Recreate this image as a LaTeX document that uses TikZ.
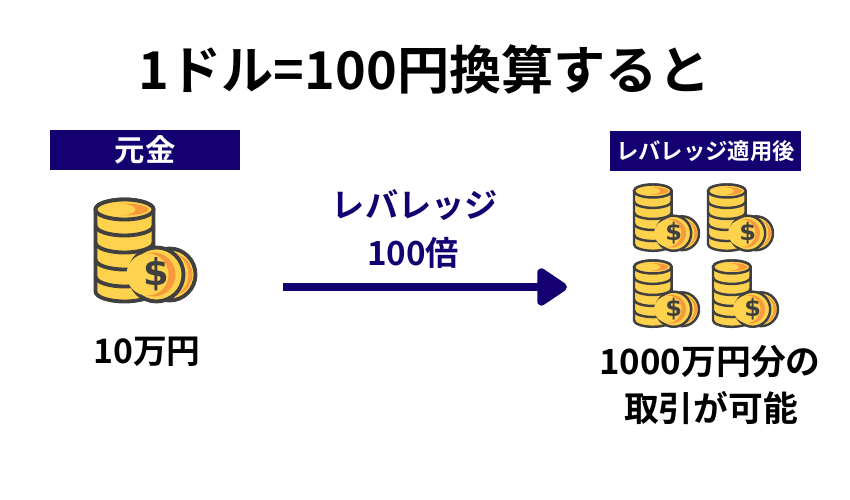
\documentclass[tikz,border=0pt]{standalone}
\usepackage{fontspec}
\setmainfont{Noto Sans CJK JP}[BoldFont={Noto Sans CJK JP Bold}]
\newfontfamily\dollarfont{DejaVu Sans}
\usepackage{xcolor}
\usetikzlibrary{arrows.meta}

\definecolor{navyband}{HTML}{140070}
\definecolor{coinyellow}{HTML}{FFD24D}
\definecolor{coinorange}{HTML}{F79A3E}
\definecolor{coinline}{HTML}{404040}

\tikzset{
  titre/.style={font=\fontsize{29.7}{29.7}\bfseries, text=black},
  legende/.style={font=\fontsize{19.8}{19.8}\bfseries, text=black},
  levier/.style={font=\fontsize{18.9}{18.9}\bfseries, text=navyband},
  bande/.style={fill=navyband, text=white, inner sep=0pt, font=\bfseries},
  coinstack/.pic={
    % La pile
    \draw[fill=coinyellow] (0,-10) -- (0,-92) arc[start angle=180, end angle=360, x radius=29, y radius=10]
      -- (58,-10) arc[start angle=0, end angle=180, x radius=29, y radius=10] -- cycle;
    \foreach \y in {-26,-43,-60,-77} {
      \draw (0,\y) arc[start angle=180, end angle=360, x radius=29, y radius=10];
    }
    % Le dessus de la pile
    \draw[fill=coinyellow] (29,-10) ellipse[x radius=29, y radius=10];
    \fill[coinorange] (29,-10) ellipse[x radius=24, y radius=6];
    \fill[coinyellow] (22,-10) ellipse[x radius=18, y radius=6];
    % La pièce arrière
    \draw[fill=coinyellow] (74,-75) circle (26);
    \fill[coinorange] (76,-75) circle (21);
    \fill[coinyellow] (70,-75) circle (23);
    % La pièce avant
    \draw[fill=coinyellow] (61,-75) circle (27);
    \fill[coinorange] (58,-75) circle (22);
    \fill[coinyellow] (52,-75) circle (21);
    \node[transform shape, text=coinline, inner sep=0pt, font=\dollarfont\fontsize{21}{21}\bfseries] (dollar) at (61,-75) {\$};
  }
}

\begin{document}
\begin{tikzpicture}[x=0.02cm, y=0.02cm]
  \useasboundingbox (0,0) rectangle (850,500);

  % Le titre
  \node[titre] (entete) at (424.5,430) {1ドル=100円換算すると};

  % Les bandes
  \node[bande, minimum width=190*0.02cm, minimum height=40*0.02cm] (principal) at (145,350) {\fontsize{17.3}{17.3}\bfseries 元金};
  \node[bande, minimum width=191*0.02cm, minimum height=40*0.02cm] (applique) at (705.5,349) {\fontsize{12.7}{12.7}\bfseries レバレッジ適用後};

  % Les piles de pièces
  \pic[draw=coinline, line width=2.2pt] (grande) at (95.5,300.5) {coinstack};
  \foreach \x/\y/\n in {634/315.5/a,708/315.5/b,634/239.5/c,713/239.5/d} {
    \pic[draw=coinline, line width=1.4pt, scale=0.65] (petite\n) at (\x,\y) {coinstack};
  }

  % Le texte et la flèche
  \node[levier] (levierhaut) at (415,295) {レバレッジ};
  \node[levier] (levierbas) at (413,247) {100倍};
  \coordinate (depart) at (283,213);
  \coordinate (arrivee) at (567,213);
  \draw[navyband, line width=5.1pt, -{Triangle[round, length=19pt, width=24pt]}] (depart) -- (arrivee);

  % Les légendes
  \node[legende, font=\fontsize{19.2}{19.2}\bfseries] (montant) at (147,148) {10万円};
  \node[legende] (volumehaut) at (710,138) {1000万円分の};
  \node[legende] (volumebas) at (711,92) {取引が可能};
\end{tikzpicture}
\end{document}
